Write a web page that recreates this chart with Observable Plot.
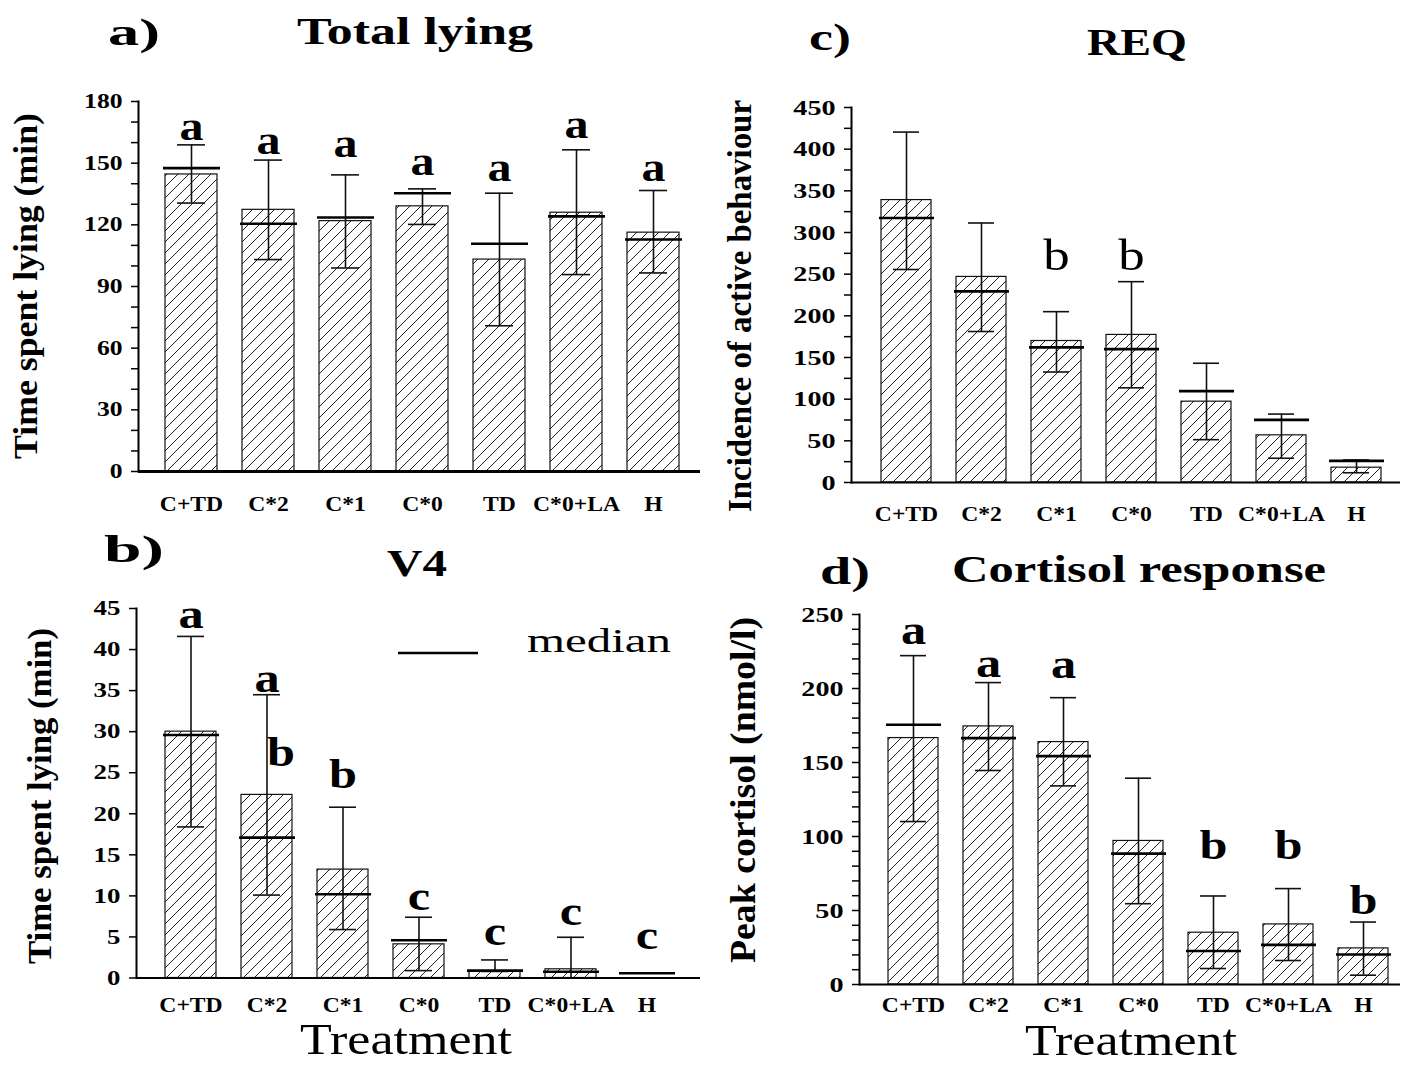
<!DOCTYPE html>
<html>
<head>
<meta charset="utf-8">
<script src="https://cdn.jsdelivr.net/npm/d3@7"></script>
<script src="https://cdn.jsdelivr.net/npm/@observablehq/plot@0.6"></script>
<style>
  body { margin: 0; background: #fff; }
  #root { position: relative; width: 1406px; height: 1065px; overflow: hidden; background: #fff; }
  #root svg { position: absolute; left: 0; top: 0; max-width: none; }
</style>
</head>
<body>
<div id="root"></div>
<script>
// ---------- data ----------
const categories = ["C+TD", "C*2", "C*1", "C*0", "TD", "C*0+LA", "H"];

// a) Total lying
const lyingMean   = [144.5, 127.3, 121.8, 129.0, 103.1, 125.9, 116.2];
const lyingMedian = [147.6, 120.5, 123.6, 135.4, 110.8, 124.1, 112.9];
const lyingHigh   = [158.9, 151.5, 144.3, 137.5, 135.4, 156.5, 136.7];
const lyingLow    = [130.6, 103.1,  99.0, 120.2,  70.9,  95.8,  96.6];
const lyingLetterCats = ["C+TD", "C*2", "C*1", "C*0", "TD", "C*0+LA", "H"];
const lyingLetters    = ["a", "a", "a", "a", "a", "a", "a"];
const lyingLetterY    = [167.5, 160.5, 159, 150.5, 147.5, 168.5, 147.5];
const lyingTicks      = [0, 30, 60, 90, 120, 150, 180];
const lyingMinorTicks = [10, 20, 40, 50, 70, 80, 100, 110, 130, 140, 160, 170];

// b) V4
const v4Mean   = [30.0, 22.3, 13.2, 4.1, 0.77, 1.06, null];
const v4Median = [29.6, 17.1, 10.2, 4.6, 0.9, 0.77, 0.57];
const v4High   = [41.6, 34.5, 20.8, 7.4, 2.2, 4.96, null];
const v4Low    = [18.4, 10.1, 5.9, 0.9, 0.8, 0, null];
const v4LetterCats = ["C+TD", "C*2", "C*2", "C*1", "C*0", "TD", "C*0+LA", "H"];
const v4Letters    = ["a", "a", "b", "b", "c", "c", "c", "c"];
const v4LetterY    = [44.3, 36.5, 27.5, 24.8, 9.9, 5.6, 8.1, 5.2];
const v4Ticks      = [0, 5, 10, 15, 20, 25, 30, 35, 40, 45];
const v4MinorTicks = [];

// c) REQ
const reqMean   = [338.9, 246.7, 169.8, 177.1, 97.0, 56.6, 17.8];
const reqMedian = [317.4, 229.3, 162.2, 160.1, 109.6, 75.2, 26.0];
const reqHigh   = [420.5, 311.4, 205.0, 241.0, 143.1, 82.1, 27.0];
const reqLow    = [255.6, 181.2, 132.6, 113.6, 51.4, 29.1, 11.7];
const reqLetterCats = ["C*1", "C*0"];
const reqLetters    = ["b", "b"];
const reqLetterY    = [272, 272];
const reqTicks      = [0, 50, 100, 150, 200, 250, 300, 350, 400, 450];
const reqMinorTicks = [25, 75, 125, 175, 225, 275, 325, 375, 425];

// d) Cortisol response
const cortMean   = [166.5, 174.4, 163.8, 97.0, 35.0, 40.6, 24.4];
const cortMedian = [175.5, 166.5, 154.3, 88.4, 22.6, 26.8, 20.3];
const cortHigh   = [222.2, 204.0, 193.8, 139.4, 59.8, 64.8, 42.2];
const cortLow    = [110.1, 144.6, 134.2, 54.6, 10.8, 16.2, 6.3];
const cortLetterCats = ["C+TD", "C*2", "C*1", "TD", "C*0+LA", "H"];
const cortLetters    = ["a", "a", "a", "b", "b", "b"];
const cortLetterY    = [239, 217, 216, 94, 94, 57];
const cortTicks      = [0, 50, 100, 150, 200, 250];
const cortMinorTicks = [10, 20, 30, 40, 60, 70, 80, 90, 110, 120, 130, 140, 160, 170, 180, 190, 210, 220, 230, 240];

// ---------- helpers ----------
const FONT = "'Liberation Serif', 'Times New Roman', serif";
const root = document.getElementById("root");

// overlay svg (pattern defs + titles)
const overlay = d3.create("svg")
  .attr("width", 1406).attr("height", 1065)
  .attr("viewBox", "0 0 1406 1065")
  .style("font-family", FONT);
const pat = overlay.append("defs").append("pattern")
  .attr("id", "hatch").attr("patternUnits", "userSpaceOnUse")
  .attr("width", 11).attr("height", 11);
pat.append("rect").attr("width", 11).attr("height", 11).attr("fill", "white");
pat.append("path").attr("d", "M-1,12 L12,-1 M-3,3 L3,-3 M8,14 L14,8")
  .attr("stroke", "#222").attr("stroke-width", 1).attr("fill", "none");

function rowsOf(means, medians, highs, lows) {
  return categories.map((cat, i) => ({cat, mean: means[i], median: medians[i], hi: highs[i], lo: lows[i]}));
}
function lettersOf(cats, ts, ys) {
  return cats.map((cat, i) => ({cat, t: ts[i], y: ys[i]}));
}

function stretch(svg, selector, f) {
  svg.querySelectorAll(selector).forEach(t => {
    const w = t.getComputedTextLength();
    if (w > 0) {
      t.setAttribute("textLength", (w * f).toFixed(1));
      t.setAttribute("lengthAdjust", "spacingAndGlyphs");
    }
  });
}

function panel(cfg) {
  const rows = rowsOf(cfg.mean, cfg.median, cfg.high, cfg.low);
  const letters = lettersOf(cfg.letterCats, cfg.letters, cfg.letterY);
  const shifted = d => cfg.shift && d.cat === cfg.shift.cat && d.t === cfg.shift.t;
  const all = cfg.ticks.concat(cfg.minor).sort((a, b) => a - b);
  const svg = Plot.plot({
    width: 1406, height: 1065,
    marginLeft: cfg.left, marginRight: 1406 - cfg.right,
    marginTop: cfg.top, marginBottom: 1065 - cfg.bottom,
    style: {background: "transparent", overflow: "visible", fontFamily: FONT, color: "black"},
    x: {domain: categories, range: cfg.xr, paddingInner: 0.33, paddingOuter: 0.35, align: 0.5},
    y: {domain: [0, cfg.ticks[cfg.ticks.length - 1]]},
    marks: [
      Plot.barY(rows, {x: "cat", y: "mean", fill: "url(#hatch)", stroke: "#111", strokeWidth: 1.2}),
      Plot.ruleX(rows, {x: "cat", y1: "lo", y2: "hi", stroke: "#111", strokeWidth: 1.6}),
      Plot.tickY(rows, {x: "cat", y: "hi", stroke: "#111", strokeWidth: 1.6, insetLeft: 12, insetRight: 12}),
      Plot.tickY(rows, {x: "cat", y: "lo", stroke: "#111", strokeWidth: 1.6, insetLeft: 12, insetRight: 12}),
      Plot.tickY(rows, {x: "cat", y: "median", stroke: "#000", strokeWidth: 2.6, insetLeft: -2, insetRight: -3}),
      Plot.ruleY([0], {stroke: "#000", strokeWidth: cfg.baseW}),
      Plot.frame({anchor: "left", stroke: "#000", strokeWidth: 2}),
      Plot.axisY({
        ticks: all, tickSize: 7, tickPadding: 9, label: null,
        tickFormat: d => cfg.ticks.includes(d) ? String(d) : "",
        fontSize: cfg.tickFont, fontWeight: "bold", strokeWidth: 1.5
      }),
      Plot.axisX({tickSize: 0, tickPadding: cfg.xPad, label: null, fontSize: 20, fontWeight: "bold"}),
      Plot.text(letters.filter(d => !shifted(d)), {x: "cat", y: "y", text: "t", fontSize: cfg.letterFont, fontWeight: cfg.letterWeight, fill: "#000"}),
      Plot.text(letters.filter(d => shifted(d)), {x: "cat", y: "y", text: "t", dx: cfg.shift ? cfg.shift.dx : 0, fontSize: cfg.letterFont, fontWeight: cfg.letterWeight, fill: "#000"})
    ]
  });
  root.appendChild(svg);
  stretch(svg, 'g[aria-label="y-axis tick label"] text', 1.28);
  stretch(svg, 'g[aria-label="x-axis tick label"] text', 1.18);
  stretch(svg, 'g[aria-label="text"] text', 1.2);
  return svg;
}

root.appendChild(overlay.node());

panel({mean: lyingMean, median: lyingMedian, high: lyingHigh, low: lyingLow,
  letterCats: lyingLetterCats, letters: lyingLetters, letterY: lyingLetterY,
  ticks: lyingTicks, minor: lyingMinorTicks,
  left: 138, right: 700, top: 101, bottom: 471, xr: [138, 706], baseW: 3, xPad: 25,
  tickFont: 20, letterFont: 40, letterWeight: "bold"});

panel({mean: v4Mean, median: v4Median, high: v4High, low: v4Low,
  letterCats: v4LetterCats, letters: v4Letters, letterY: v4LetterY,
  ticks: v4Ticks, minor: v4MinorTicks,
  left: 136, right: 700, top: 608, bottom: 977.5, xr: [135, 701], baseW: 2.2, xPad: 20,
  tickFont: 21, letterFont: 42, letterWeight: "bold", shift: {cat: "C*2", t: "b", dx: 14}});

panel({mean: reqMean, median: reqMedian, high: reqHigh, low: reqLow,
  letterCats: reqLetterCats, letters: reqLetters, letterY: reqLetterY,
  ticks: reqTicks, minor: reqMinorTicks,
  left: 851, right: 1400, top: 107, bottom: 482, xr: [851.5, 1410.5], baseW: 2.2, xPad: 24,
  tickFont: 22, letterFont: 44, letterWeight: "normal"});

panel({mean: cortMean, median: cortMedian, high: cortHigh, low: cortLow,
  letterCats: cortLetterCats, letters: cortLetters, letterY: cortLetterY,
  ticks: cortTicks, minor: cortMinorTicks,
  left: 859, right: 1400, top: 614, bottom: 984, xr: [859, 1418], baseW: 2.2, xPad: 13,
  tickFont: 22, letterFont: 42, letterWeight: "bold"});

// ---------- titles, axis titles, legend ----------
const heads = [
  {t: "a)", x: 108, y: 45, w: 52, size: 38, weight: "bold"},
  {t: "Total lying", x: 297, y: 44, w: 236, size: 37, weight: "bold"},
  {t: "c)", x: 809, y: 50, w: 42, size: 38, weight: "bold"},
  {t: "REQ", x: 1087, y: 55, w: 100, size: 38, weight: "bold"},
  {t: "b)", x: 104, y: 562, w: 60, size: 38, weight: "bold"},
  {t: "V4", x: 387, y: 576, w: 60, size: 38, weight: "bold"},
  {t: "d)", x: 820, y: 584, w: 50, size: 38, weight: "bold"},
  {t: "Cortisol response", x: 952, y: 582, w: 374, size: 37, weight: "bold"},
  {t: "median", x: 527, y: 652, w: 144, size: 34, weight: "normal"},
  {t: "Treatment", x: 300, y: 1054, w: 212, size: 45, weight: "normal"},
  {t: "Treatment", x: 1025, y: 1055, w: 212, size: 45, weight: "normal"}
];
overlay.selectAll("text.head").data(heads).join("text")
  .attr("class", "head")
  .attr("x", d => d.x).attr("y", d => d.y)
  .attr("font-size", d => d.size).attr("font-weight", d => d.weight)
  .attr("textLength", d => d.w).attr("lengthAdjust", "spacingAndGlyphs")
  .attr("fill", "#000")
  .text(d => d.t);

const ytitles = [
  {t: "Time spent lying (min)", x: 37, y: 286, len: 346, size: 34},
  {t: "Incidence of active behaviour", x: 751, y: 306, len: 412, size: 33},
  {t: "Time spent lying (min)", x: 51, y: 796, len: 336, size: 34},
  {t: "Peak cortisol (nmol/l)", x: 755, y: 790, len: 346, size: 35}
];
overlay.selectAll("text.yt").data(ytitles).join("text")
  .attr("class", "yt")
  .attr("transform", d => `translate(${d.x},${d.y}) rotate(-90)`)
  .attr("text-anchor", "middle")
  .attr("font-size", d => d.size).attr("font-weight", "bold")
  .attr("textLength", d => d.len).attr("lengthAdjust", "spacingAndGlyphs")
  .attr("fill", "#000")
  .text(d => d.t);

// legend line for "median"
overlay.append("line")
  .attr("x1", 398).attr("x2", 478).attr("y1", 653).attr("y2", 653)
  .attr("stroke", "#000").attr("stroke-width", 2.6);
</script>
</body>
</html>
